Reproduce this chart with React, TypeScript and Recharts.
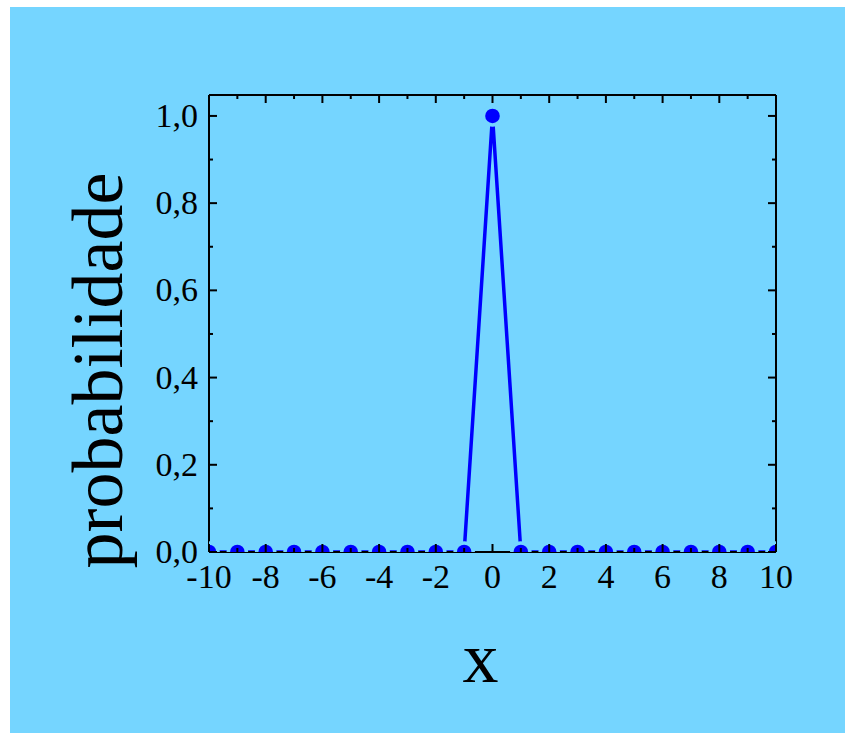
import { LineChart, Line, XAxis, YAxis, Label } from 'recharts';

// discrete distribution: all the mass sits on x = 0
const xValues = [-10, -9, -8, -7, -6, -5, -4, -3, -2, -1, 0, 1, 2, 3, 4, 5, 6, 7, 8, 9, 10];
const probabilities = [0, 0, 0, 0, 0, 0, 0, 0, 0, 0, 1, 0, 0, 0, 0, 0, 0, 0, 0, 0, 0];

const xTicks = [-10, -9, -8, -7, -6, -5, -4, -3, -2, -1, 0, 1, 2, 3, 4, 5, 6, 7, 8, 9, 10];
const yTicks = [0, 0.1, 0.2, 0.3, 0.4, 0.5, 0.6, 0.7, 0.8, 0.9, 1.0];

const data = xValues.map((x, i) => ({ x, p: probabilities[i] }));

const BG = '#75d5ff';
const BLUE = '#0000ff';
const FONT = "'Liberation Serif', 'Times New Roman', serif";
const MAJOR = 8;
const MINOR = 4;
const TICK_FONT = 34;

type Side = 'bottom' | 'top' | 'left' | 'right';

// inward ticks on all four sides, labels only on bottom/left majors
function makeTick(side: Side) {
  return function Tick(props: any) {
    const { x, y, payload } = props;
    const v = payload.value as number;
    const isX = side === 'bottom' || side === 'top';
    const major = isX ? v % 2 === 0 : Math.round(v * 10) % 2 === 0;
    const len = major ? MAJOR : MINOR;
    let line;
    if (side === 'bottom') line = <line x1={x} y1={y} x2={x} y2={y - len} />;
    else if (side === 'top') line = <line x1={x} y1={y} x2={x} y2={y + len} />;
    else if (side === 'left') line = <line x1={x} y1={y} x2={x + len} y2={y} />;
    else line = <line x1={x} y1={y} x2={x - len} y2={y} />;

    let text = null;
    if (major && side === 'bottom') {
      text = (
        <text x={x} y={y + 36} textAnchor="middle" fontSize={TICK_FONT} fontFamily={FONT} fill="#000">
          {String(v)}
        </text>
      );
    } else if (major && side === 'left') {
      text = (
        <text x={x - 11} y={y + 11} textAnchor="end" fontSize={TICK_FONT} fontFamily={FONT} fill="#000">
          {v.toFixed(1).replace('.', ',')}
        </text>
      );
    }
    return (
      <g>
        <g stroke="#000" strokeWidth={2}>{line}</g>
        {text}
      </g>
    );
  };
}

function renderDot(props: any) {
  const { cx, cy, index } = props;
  return (
    <g key={`dot-${index}`}>
      <circle cx={cx} cy={cy} r={10.8} fill={BG} />
      <circle cx={cx} cy={cy} r={7.3} fill={BLUE} />
    </g>
  );
}

function XTitle(props: any) {
  const vb = props.viewBox || { x: 209, y: 552, width: 567 };
  return (
    <text x={vb.x + vb.width / 2 - 12} y={vb.y + 130} textAnchor="middle" fontSize={72} fontFamily={FONT} fill="#000">
      x
    </text>
  );
}

function YTitle(props: any) {
  const vb = props.viewBox || { x: 208, y: 95, width: 1, height: 457 };
  const cx = vb.x + vb.width - 87;
  const cy = vb.y + vb.height / 2 + 47;
  return (
    <text x={cx} y={cy} transform={`rotate(-90, ${cx}, ${cy})`} textAnchor="middle" fontSize={72} fontFamily={FONT} fill="#000">
      probabilidade
    </text>
  );
}

export default function App() {
  return (
    <div style={{ position: 'absolute', left: 0, top: 0, width: 845, height: 734, background: '#fff' }}>
      <div style={{ position: 'absolute', left: 10, top: 7, width: 835, height: 726, background: BG }} />
      <div style={{ position: 'absolute', left: 0, top: 0 }}>
        <LineChart width={845} height={734} data={data} margin={{ top: 94, right: 68, bottom: 181, left: 208 }}>
          <XAxis
            dataKey="x"
            type="number"
            domain={[-10, 10]}
            ticks={xTicks}
            interval={0}
            allowDataOverflow
            height={1}
            tickSize={0}
            tickMargin={0}
            tickLine={false}
            axisLine={{ stroke: '#000', strokeWidth: 2 }}
            tick={makeTick('bottom')}
          >
            <Label content={XTitle} />
          </XAxis>
          <XAxis
            xAxisId="top"
            orientation="top"
            dataKey="x"
            type="number"
            domain={[-10, 10]}
            ticks={xTicks}
            interval={0}
            allowDataOverflow
            height={1}
            tickSize={0}
            tickMargin={0}
            tickLine={false}
            axisLine={{ stroke: '#000', strokeWidth: 2 }}
            tick={makeTick('top')}
          />
          <YAxis
            type="number"
            domain={[0, 1.048]}
            ticks={yTicks}
            interval={0}
            allowDataOverflow
            width={1}
            tickSize={0}
            tickMargin={0}
            tickLine={false}
            axisLine={{ stroke: '#000', strokeWidth: 2 }}
            tick={makeTick('left')}
          >
            <Label content={YTitle} />
          </YAxis>
          <YAxis
            yAxisId="right"
            orientation="right"
            type="number"
            domain={[0, 1.048]}
            ticks={yTicks}
            interval={0}
            allowDataOverflow
            width={1}
            tickSize={0}
            tickMargin={0}
            tickLine={false}
            axisLine={{ stroke: '#000', strokeWidth: 2 }}
            tick={makeTick('right')}
          />
          <Line
            dataKey="p"
            type="linear"
            stroke={BLUE}
            strokeWidth={3.5}
            dot={renderDot}
            activeDot={false}
            isAnimationActive={false}
          />
        </LineChart>
      </div>
    </div>
  );
}
